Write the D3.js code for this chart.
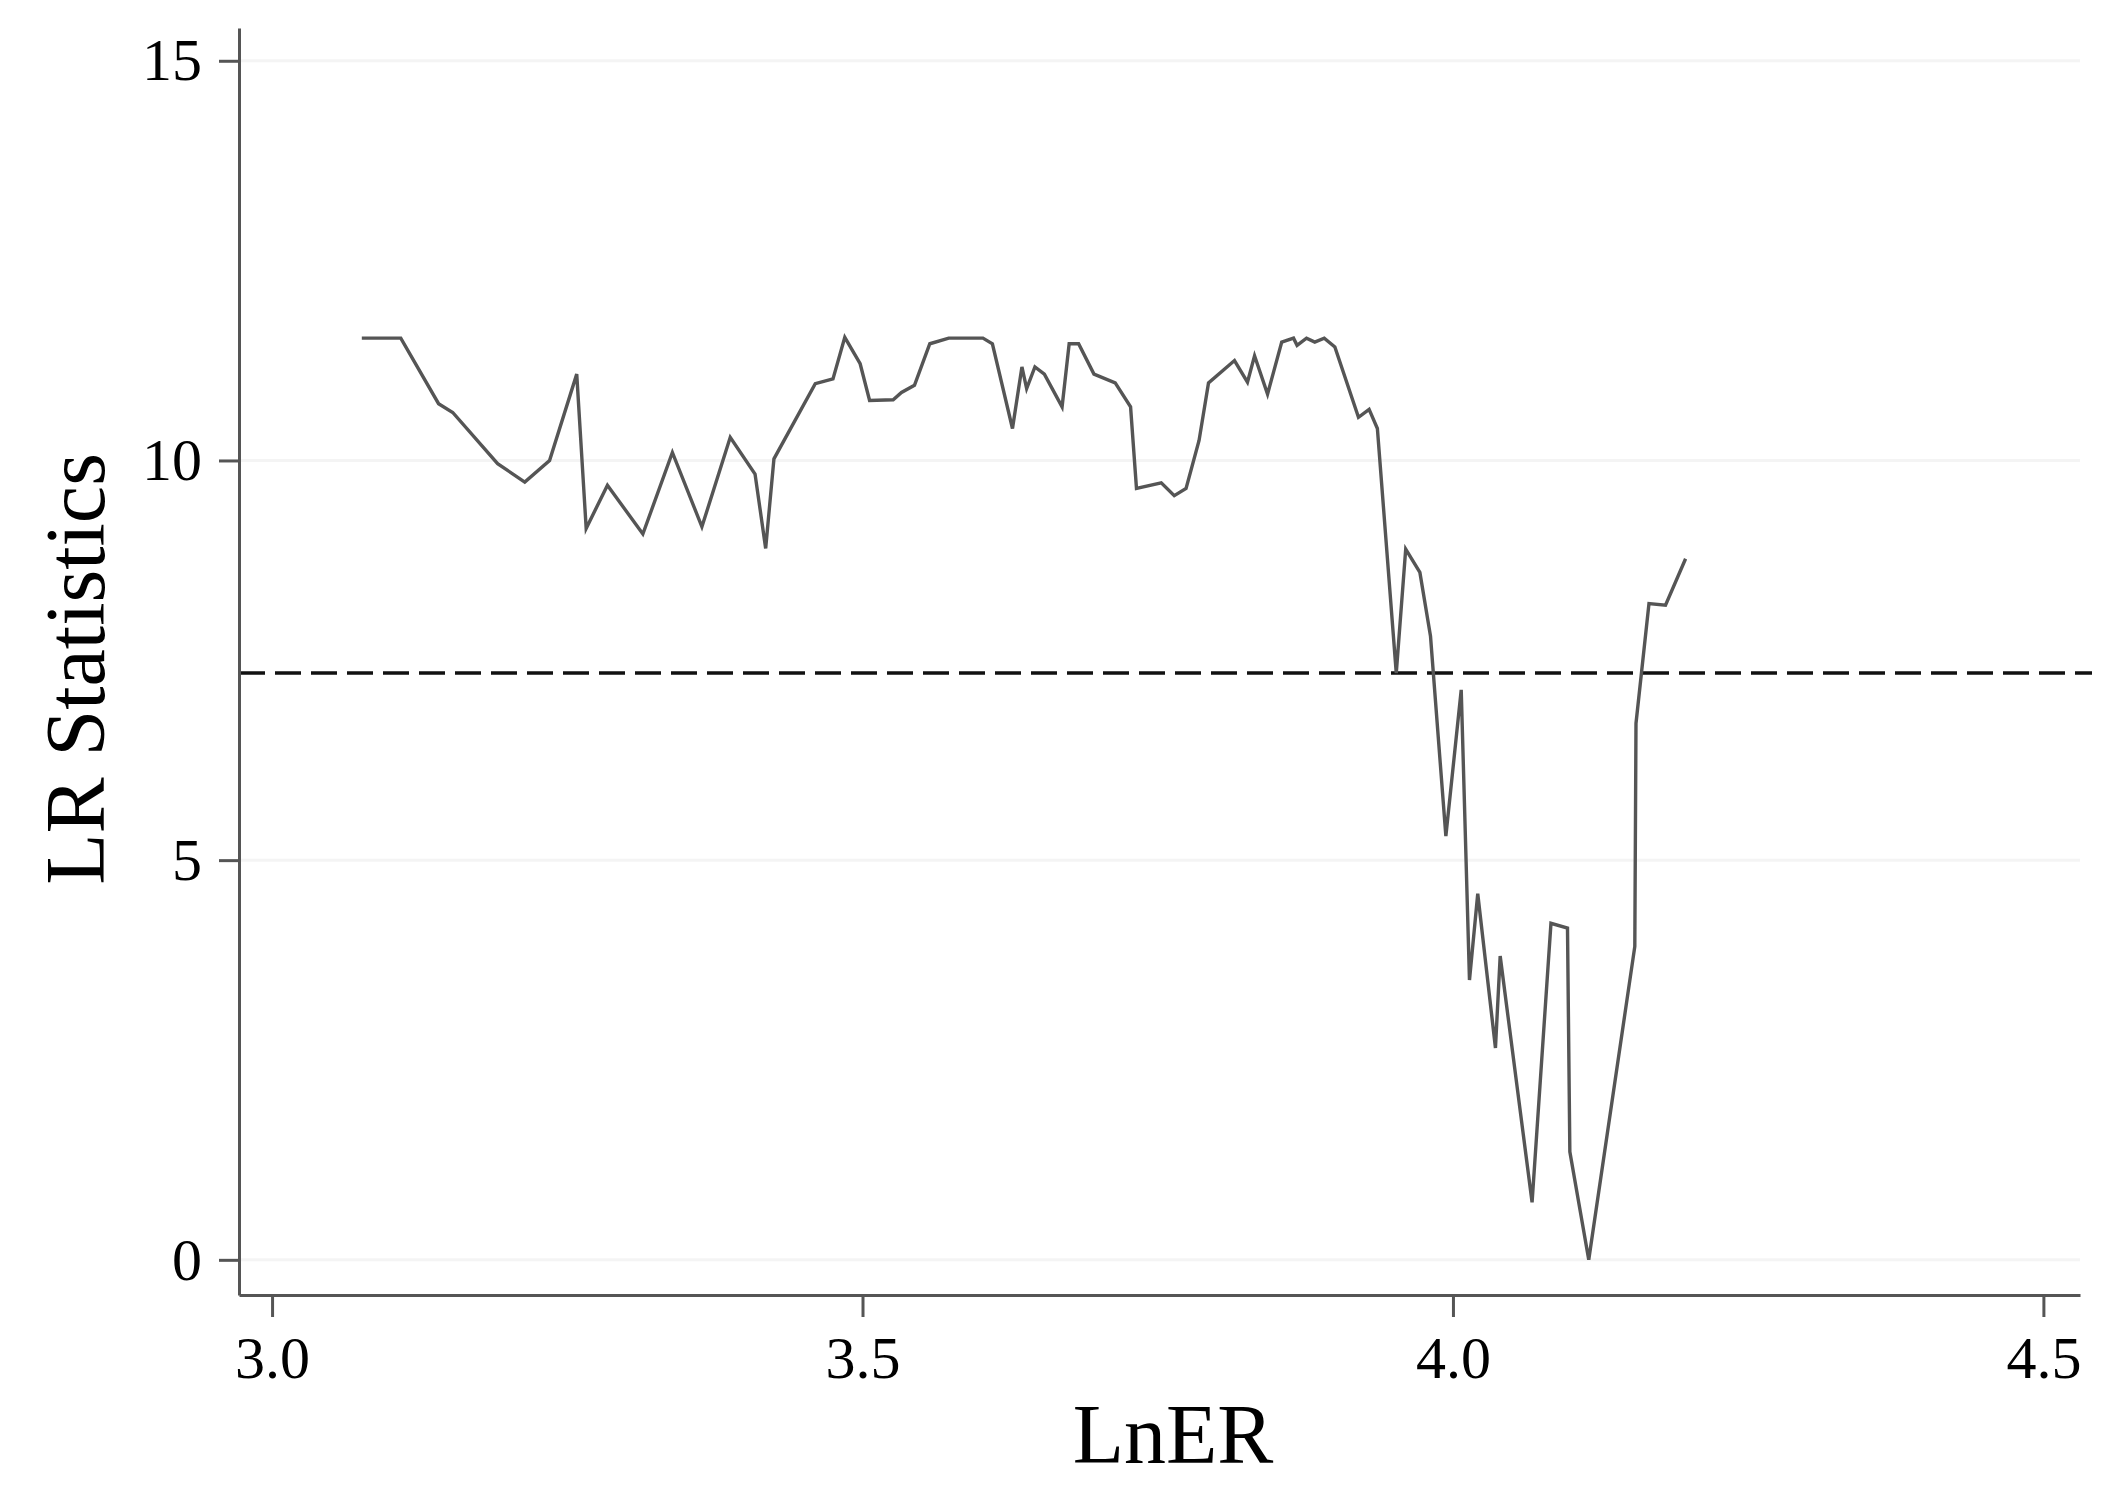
<!DOCTYPE html>
<html>
<head>
<meta charset="utf-8">
<script src="https://cdn.jsdelivr.net/npm/d3@7"></script>
<style>
  body { margin: 0; background: #fff; }
  svg { display: block; }
  .axis text { font-family: 'Liberation Serif', 'Times New Roman', serif; fill: #000; }
  .title { font-family: 'Liberation Serif', 'Times New Roman', serif; fill: #000; }
</style>
</head>
<body>
<svg width="2109" height="1487"></svg>
<script>
// Data
var lnER = [
  3.076, 3.109, 3.141, 3.153, 3.191, 3.214, 3.235, 3.258, 3.266, 3.284,
  3.314, 3.339, 3.364, 3.388, 3.409, 3.418, 3.425, 3.460, 3.475, 3.485,
  3.498, 3.506, 3.526, 3.533, 3.544, 3.557, 3.573, 3.602, 3.610, 3.627,
  3.635, 3.639, 3.646, 3.654, 3.669, 3.675, 3.683, 3.696, 3.714, 3.727,
  3.732, 3.753, 3.764, 3.774, 3.785, 3.793, 3.815, 3.826, 3.832, 3.843,
  3.855, 3.865, 3.868, 3.876, 3.883, 3.891, 3.900, 3.920, 3.929, 3.936,
  3.952, 3.960, 3.972, 3.981, 3.994, 4.007, 4.014, 4.021, 4.036, 4.040,
  4.067, 4.083, 4.097, 4.099, 4.115, 4.154, 4.155, 4.166, 4.180, 4.197
]
var lrStats = [
  11.53, 11.53, 10.71, 10.60, 9.96, 9.73, 10.00, 11.08, 9.15, 9.69,
  9.08, 10.10, 9.17, 10.29, 9.83, 8.90, 10.02, 10.96, 11.02, 11.54,
  11.21, 10.75, 10.76, 10.85, 10.94, 11.46, 11.53, 11.53, 11.46, 10.40,
  11.17, 10.90, 11.17, 11.08, 10.67, 11.46, 11.46, 11.08, 10.97, 10.67,
  9.65, 9.72, 9.56, 9.65, 10.25, 10.97, 11.25, 10.98, 11.31, 10.83,
  11.48, 11.53, 11.44, 11.53, 11.48, 11.53, 11.42, 10.54, 10.64, 10.40,
  7.34, 8.89, 8.60, 7.80, 5.30, 7.13, 3.50, 4.58, 2.65, 3.80,
  0.72, 4.21, 4.15, 1.35, 0.00, 3.92, 6.71, 8.21, 8.19, 8.77
]
var criticalValue = 7.34
var xTicks = [3.0, 3.5, 4.0, 4.5]
var yTicks = [0, 5, 10, 15]

// The svg
var svg = d3.select('svg'),
  width = +svg.attr('width'),
  height = +svg.attr('height')

// Scales
var x = d3
  .scaleLinear()
  .domain([2.972, 4.531])
  .range([239, 2080])
var y = d3
  .scaleLinear()
  .domain([-0.44, 15.41])
  .range([1295, 28])

// Faint horizontal grid
svg
  .append('g')
  .selectAll('line')
  .data(yTicks)
  .enter()
  .append('line')
  .attr('x1', x.range()[0])
  .attr('x2', x.range()[1])
  .attr('y1', function(d) { return y(d) })
  .attr('y2', function(d) { return y(d) })
  .attr('stroke', '#f4f4f4')
  .attr('stroke-width', 3)

// Critical value line
svg
  .append('line')
  .attr('x1', x.range()[0])
  .attr('x2', 2092)
  .attr('y1', y(criticalValue))
  .attr('y2', y(criticalValue))
  .attr('stroke', '#111')
  .attr('stroke-width', 3.5)
  .attr('stroke-dasharray', '26,10')

// LR statistics line
var line = d3
  .line()
  .x(function(d, i) { return x(lnER[i]) })
  .y(function(d) { return y(d) })
svg
  .append('path')
  .datum(lrStats)
  .attr('fill', 'none')
  .attr('stroke', '#555')
  .attr('stroke-width', 3.4)
  .attr('d', line)

// Axes
var yAxis = svg
  .append('g')
  .attr('class', 'axis')
  .attr('transform', 'translate(' + x.range()[0] + ',0)')
  .call(
    d3
      .axisLeft(y)
      .tickValues(yTicks)
      .tickSize(20)
      .tickSizeOuter(0)
      .tickPadding(17)
  )
var xAxis = svg
  .append('g')
  .attr('class', 'axis')
  .attr('transform', 'translate(0,' + y.range()[0] + ')')
  .call(
    d3
      .axisBottom(x)
      .tickValues(xTicks)
      .tickFormat(d3.format('.1f'))
      .tickSize(22)
      .tickSizeOuter(0)
      .tickPadding(18)
  )
svg.selectAll('.axis path, .axis line')
  .attr('stroke', '#555')
  .attr('stroke-width', 3)
svg.selectAll('.axis text').style('font-size', '60px')

// Axis titles
svg
  .append('text')
  .attr('class', 'title')
  .attr('transform', 'translate(104,669) rotate(-90)')
  .attr('text-anchor', 'middle')
  .style('font-size', '84px')
  .text('LR Statistics')
svg
  .append('text')
  .attr('class', 'title')
  .attr('x', 1173)
  .attr('y', 1463)
  .attr('text-anchor', 'middle')
  .style('font-size', '84px')
  .text('LnER')
</script>
</body>
</html>
